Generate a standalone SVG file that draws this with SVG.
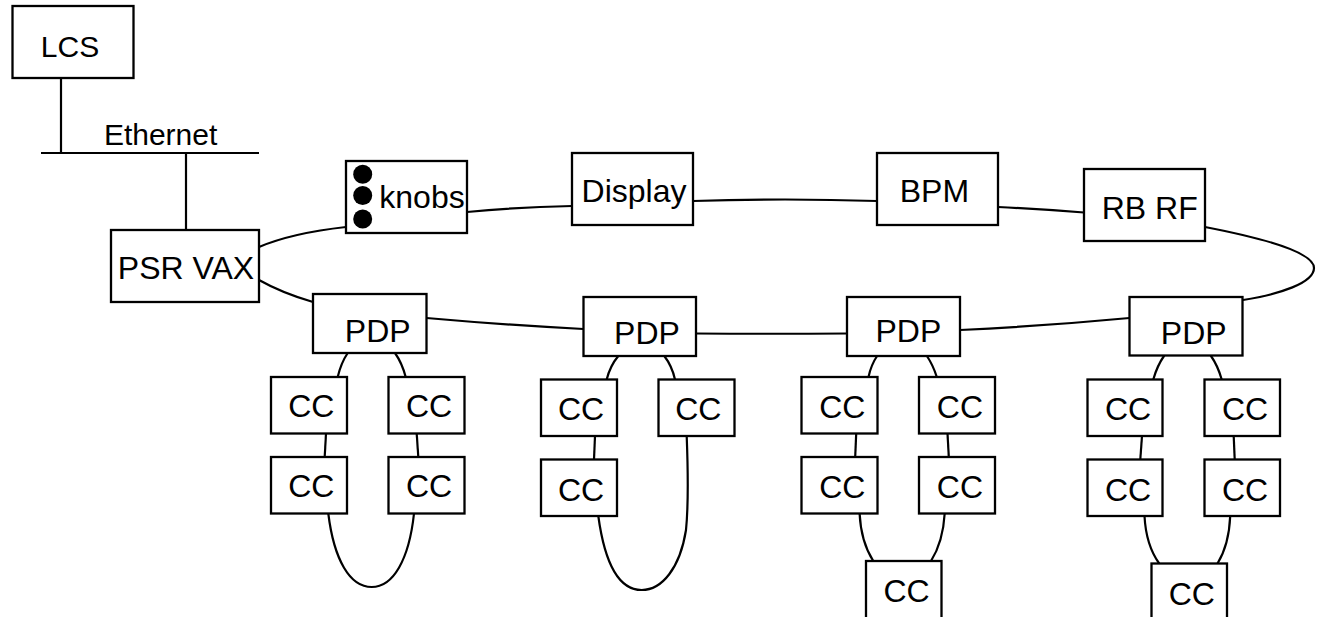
<svg xmlns="http://www.w3.org/2000/svg" width="1318" height="617" viewBox="0 0 1318 617">
<style>
.box{fill:#fff;stroke:#000;stroke-width:2.3}
.t{font-family:"Liberation Sans",Arial,sans-serif;font-size:32px;fill:#000;text-anchor:middle}
.s{font-size:30px}
.c{fill:none;stroke:#000;stroke-width:2.2}
</style>
<rect width="1318" height="617" fill="#fff"/>
<g id="connectors" class="c">
<path d="M61,78 V153"/>
<path d="M41,153 H259"/>
<path d="M186,153 V230"/>
<path d="M259,247 Q292,233 346,227"/>
<path d="M259,280 Q282,293 313,302"/>
<path d="M467,212 Q520,207 572,206"/>
<path d="M693,201 Q785,198 877,201"/>
<path d="M998,207 Q1040,209 1084,212.5"/>
<path d="M1205,227 C1262,238 1314,252 1314,268 C1314,283 1280,294 1243,300"/>
<path d="M426.5,318 Q505,325 583.5,329"/>
<path d="M696,333.5 Q770,334 847,333.5"/>
<path d="M960,330 Q1045,326 1129.5,318"/>
<path d="M347.7,353 Q341,363 337.7,377"/>
<path d="M395,353 Q402,363 405.7,377"/>
<path d="M326,433.5 L324.7,457"/>
<path d="M416.7,433.5 L418.3,457"/>
<path d="M328.3,513.5 C334,560 350,587 371.7,587 C393,587 409,560 414,513.5"/>
<path d="M618.3,356 Q610,366 606.7,379.5"/>
<path d="M664.3,356 Q672,366 675,379.5"/>
<path d="M595,436 L594,459.5"/>
<path d="M686.7,436 C688,470 689,500 686,530 C680,568 662,590 641.7,590 C620,590 605,565 598.3,516"/>
<path d="M877.1,356 Q871,365 868.5,377"/>
<path d="M926.9,356 Q933,365 936.8,377"/>
<path d="M856.2,433.5 L855.2,457"/>
<path d="M947.5,433.5 L948.8,457"/>
<path d="M859.6,513.5 Q861,542 873.3,561"/>
<path d="M944.7,513.5 Q943,542 931,561"/>
<path d="M1164.3,355.5 Q1157,366 1153.3,379.5"/>
<path d="M1210.7,355.5 Q1218,366 1221.7,379.5"/>
<path d="M1142,436 L1140.3,459.5"/>
<path d="M1233.7,436 L1234.7,459.5"/>
<path d="M1144.5,516 Q1146,545 1159.2,563.5"/>
<path d="M1230.2,516 Q1229,545 1217.5,563.5"/>
</g>
<g id="lcs"><rect class="box" x="12.5" y="6" width="121" height="72"/><text class="t s" x="70" y="57">LCS</text></g>
<g id="ethernet"><text class="t s" x="160.6" y="144.5">Ethernet</text></g>
<g id="psrvax"><rect class="box" x="111" y="230" width="148" height="72"/><text class="t" x="186" y="279">PSR VAX</text></g>
<g id="knobs"><rect class="box" x="346" y="161" width="121" height="72"/><circle cx="362.7" cy="174.3" r="9.5"/><circle cx="362.7" cy="195.5" r="9.5"/><circle cx="362.7" cy="219" r="9.5"/><text class="t" x="422" y="208">knobs</text></g>
<g id="display"><rect class="box" x="572" y="153" width="121" height="72"/><text class="t" x="634" y="202">Display</text></g>
<g id="bpm"><rect class="box" x="877" y="153" width="121" height="72"/><text class="t" x="934.4" y="202">BPM</text></g>
<g id="rbrf"><rect class="box" x="1084" y="169" width="121" height="72"/><text class="t" x="1149.7" y="218.5">RB RF</text></g>
<g id="pdp1"><rect class="box" x="313" y="294" width="113.5" height="59"/><text class="t" x="377.7" y="341.7">PDP</text></g>
<g id="pdp2"><rect class="box" x="583.5" y="297" width="112.5" height="59"/><text class="t" x="647" y="344">PDP</text></g>
<g id="pdp3"><rect class="box" x="847" y="297" width="113" height="59"/><text class="t" x="908.4" y="342">PDP</text></g>
<g id="pdp4"><rect class="box" x="1129.5" y="297" width="113" height="58.5"/><text class="t" x="1193.7" y="343.5">PDP</text></g>
<g id="cc1a"><rect class="box" x="271" y="377" width="76" height="56.5"/><text class="t" x="311.3" y="417.3">CC</text></g>
<g id="cc1b"><rect class="box" x="388.5" y="377" width="76" height="56.5"/><text class="t" x="429" y="417.3">CC</text></g>
<g id="cc1c"><rect class="box" x="271" y="457" width="76" height="56.5"/><text class="t" x="311.3" y="497.3">CC</text></g>
<g id="cc1d"><rect class="box" x="388.5" y="457" width="76" height="56.5"/><text class="t" x="429" y="497.3">CC</text></g>
<g id="cc2a"><rect class="box" x="541" y="379.5" width="76" height="56.5"/><text class="t" x="581" y="420">CC</text></g>
<g id="cc2b"><rect class="box" x="658.5" y="379.5" width="76" height="56.5"/><text class="t" x="698.3" y="420">CC</text></g>
<g id="cc2c"><rect class="box" x="541" y="459.5" width="76" height="56.5"/><text class="t" x="581" y="500.5">CC</text></g>
<g id="cc3a"><rect class="box" x="801.5" y="377" width="76" height="56.5"/><text class="t" x="842.3" y="417.7">CC</text></g>
<g id="cc3b"><rect class="box" x="919" y="377" width="76" height="56.5"/><text class="t" x="959.9" y="417.7">CC</text></g>
<g id="cc3c"><rect class="box" x="801.5" y="457" width="76" height="56.5"/><text class="t" x="842.3" y="497.7">CC</text></g>
<g id="cc3d"><rect class="box" x="919" y="457" width="76" height="56.5"/><text class="t" x="959.9" y="497.7">CC</text></g>
<g id="cc3e"><rect class="box" x="866" y="561" width="75.5" height="60"/><text class="t" x="906.5" y="601.7">CC</text></g>
<g id="cc4a"><rect class="box" x="1087.5" y="379.5" width="75" height="56.5"/><text class="t" x="1128" y="420">CC</text></g>
<g id="cc4b"><rect class="box" x="1204.5" y="379.5" width="75.5" height="56.5"/><text class="t" x="1245" y="420">CC</text></g>
<g id="cc4c"><rect class="box" x="1087.5" y="459.5" width="75" height="56.5"/><text class="t" x="1128" y="500.7">CC</text></g>
<g id="cc4d"><rect class="box" x="1204.5" y="459.5" width="75.5" height="56.5"/><text class="t" x="1245" y="500.7">CC</text></g>
<g id="cc4e"><rect class="box" x="1151.5" y="563.5" width="75.5" height="60"/><text class="t" x="1191.8" y="605">CC</text></g>
</svg>
